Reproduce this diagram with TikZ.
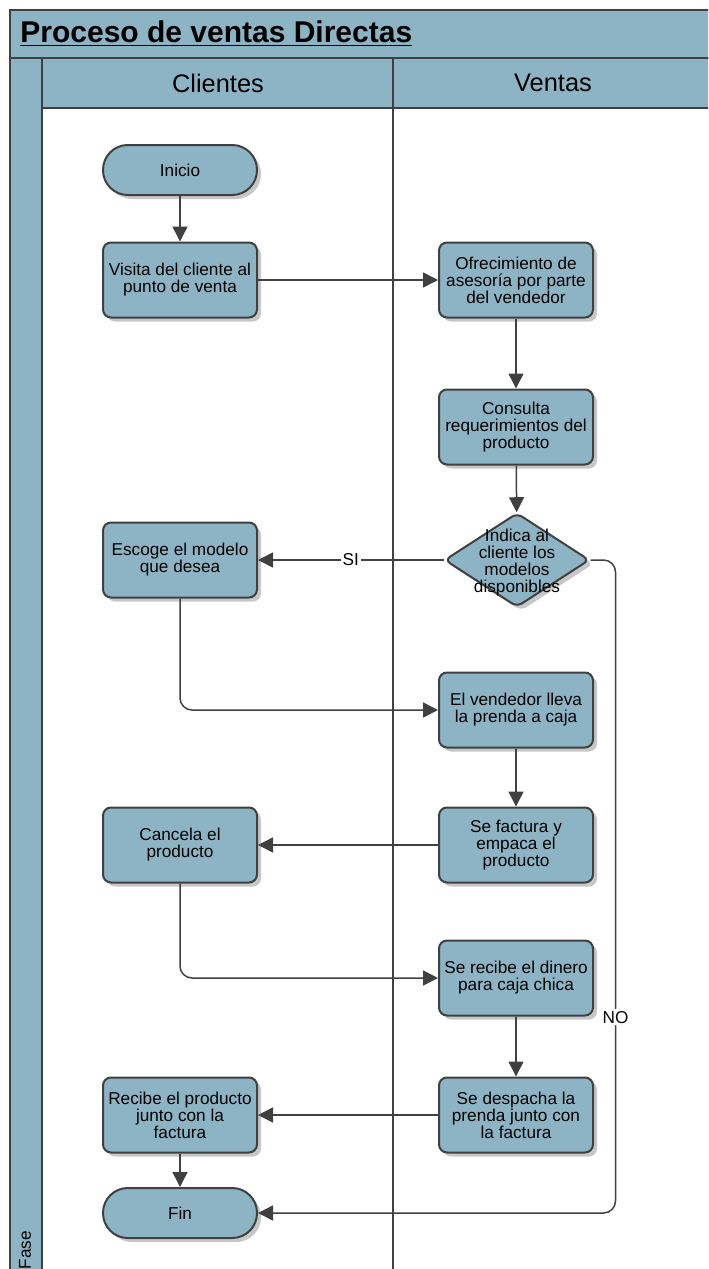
\documentclass[tikz,border=0pt]{standalone}
\usepackage{fontspec}
\setmainfont{Liberation Sans}
\usetikzlibrary{arrows.meta,shapes.geometric,shadows}
\definecolor{boxfill}{RGB}{141,180,196}
\definecolor{edgec}{RGB}{64,64,64}
\begin{document}
\begin{tikzpicture}[x=0.5pt,y=-0.5pt,
  txt/.style={align=center, font=\fontsize{8.6}{8.5}\selectfont, text=black},
  shad/.style={drop shadow={shadow xshift=2pt, shadow yshift=-2pt, fill=black!22, opacity=1}},
  box/.style={draw=edgec, line width=1pt, fill=boxfill, rounded corners=4pt,
    minimum width=77pt, minimum height=37.5pt, inner sep=0pt, txt, shad},
  term/.style={box, rounded corners=12.4pt, minimum height=25pt},
  dia/.style={diamond, draw=edgec, line width=1pt, fill=boxfill, rounded corners=3pt,
    minimum width=72.5pt, minimum height=47pt, inner sep=0pt, shad},
  arr/.style={draw=edgec, line width=0.75pt, -{Triangle[length=7.5pt,width=7.5pt]}},
  lbl/.style={txt, fill=white, inner sep=1pt},
  pool/.style={draw=edgec, line width=1pt}
]
\useasboundingbox (0,0) rectangle (708,1269);
\begin{scope}
\clip (0,0) rectangle (708,1269);
% pool
\fill[boxfill] (10,10) rectangle (720,58);
\fill[boxfill] (10,58) rectangle (42,1280);
\fill[boxfill] (42,58) rectangle (720,108);
\draw[pool] (10,10) rectangle (720,58);
\draw[pool] (10,58) rectangle (42,1280);
\draw[pool] (42,58) rectangle (393,108);
\draw[pool] (393,58) rectangle (720,108);
\draw[pool] (393,108) -- (393,1280);
\node[anchor=west, inner sep=0pt, font=\fontsize{15}{15}\selectfont\bfseries] (title) at (20,34) {\underline{Proceso de ventas Directas}};
\node[font=\fontsize{12.7}{12.7}\selectfont] (hcli) at (218,83) {Clientes};
\node[font=\fontsize{12.7}{12.7}\selectfont] (hven) at (553,83) {Ventas};
\node[txt, rotate=90] (fase) at (25,1250) {Fase};
\end{scope}
% nodes
\node[term] (ini) at (180,170) {Inicio};
\node[box] (vis) at (180,280) {Visita del cliente al\\punto de venta};
\node[box] (ofr) at (516,280) {Ofrecimiento de\\asesoría por parte\\del vendedor};
\node[box] (con) at (516,427) {Consulta\\requerimientos del\\producto};
\node[dia, label={[txt, yshift=-1.5pt]center:{Indica al\\cliente los\\modelos\\disponibles}}] (dec) at (517,560) {};
\node[box] (esc) at (180,560) {Escoge el modelo\\que desea};
\node[box] (ven) at (516,710) {El vendedor lleva\\la prenda a caja};
\node[box] (fac) at (516,845) {Se factura y\\empaca el\\producto};
\node[box] (can) at (180,845) {Cancela el\\producto};
\node[box] (rec) at (516,978) {Se recibe el dinero\\para caja chica};
\node[box] (des) at (516,1115) {Se despacha la\\prenda junto con\\la factura};
\node[box] (rpr) at (180,1115) {Recibe el producto\\junto con la\\factura};
\node[term] (fin) at (180,1213) {Fin};
% connectors
\draw[arr] (ini) -- (vis);
\draw[arr] (vis) -- (ofr);
\draw[arr] (ofr) -- (con);
\draw[arr] (con) -- (dec);
\draw[arr] (dec) -- node[lbl] {SI} (esc);
\draw[arr, rounded corners=6pt] (dec.east) -- ++(25,0) |- node[lbl, pos=0.35] {NO} (fin.east);
\draw[arr, rounded corners=6pt] (esc.south) |- (ven.west);
\draw[arr] (ven) -- (fac);
\draw[arr] (fac) -- (can);
\draw[arr, rounded corners=6pt] (can.south) |- (rec.west);
\draw[arr] (rec) -- (des);
\draw[arr] (des) -- (rpr);
\draw[arr] (rpr) -- (fin);
\end{tikzpicture}
\end{document}
